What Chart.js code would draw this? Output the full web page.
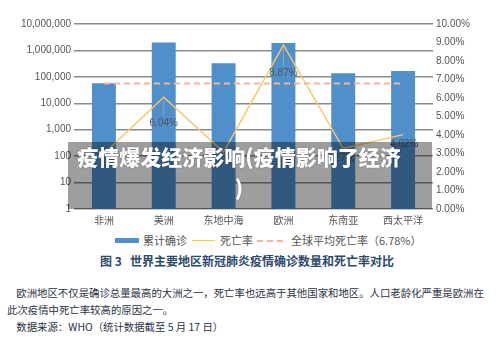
<!DOCTYPE html>
<html>
<head>
<meta charset="utf-8">
<script src="https://cdn.jsdelivr.net/npm/chart.js@4"></script>
<style>
  body { margin: 0; width: 500px; height: 349px; background: #fff; position: relative; overflow: hidden;
         font-family: "Noto Sans CJK SC", "Liberation Sans", sans-serif; }
  .chart-box { position: absolute; left: 0; top: 0; width: 500px; height: 230px; }
  .legend { position: absolute; top: 232px; left: 0; width: 500px; height: 16px; font-size: 11px; color: #555; }
  .legend span { position: absolute; top: 0; line-height: 16px; }
  .legend i { position: absolute; display: block; }
  .caption { position: absolute; left: 100px; top: 252px; font-size: 12px; font-weight: bold; color: #2d4a6b;
             white-space: nowrap; line-height: 18px; }
  .note { position: absolute; left: 7px; top: 284px; width: 490px; font-size: 10.4px; color: #2b3245;
          line-height: 17px; white-space: nowrap; }
  .overlay { position: absolute; left: 68px; top: 142px; width: 364px; height: 67px; background: rgba(0,0,0,0.38); }
  .overlay-text { position: absolute; left: 68px; top: 141px; width: 342px; text-align: center; color: #fff;
                  font-size: 21px; font-weight: 900; line-height: 31px; text-shadow: 0 0 2px rgba(0,0,0,0.3); }
</style>
</head>
<body>
<div class="chart-box"><canvas id="myChart"></canvas></div>

<div class="legend">
  <i style="left:115px; top:6px; width:24px; height:5px; background:#4f8fca;"></i>
  <span style="left:143px;">累计确诊</span>
  <i style="left:192px; top:8px; width:23px; height:0; border-top:1.5px solid #f7c66b;"></i>
  <span style="left:220px;">死亡率</span>
  <i style="left:257px; top:8px; width:26px; height:0; border-top:2px dashed #f5b59a;"></i>
  <span style="left:291px;">全球平均死亡率（6.78%）</span>
</div>

<div class="caption">图 3&nbsp;&nbsp;&nbsp;世界主要地区新冠肺炎疫情确诊数量和死亡率对比</div>

<div class="note">
  &nbsp;&nbsp;&nbsp;&nbsp;欧洲地区不仅是确诊总量最高的大洲之一，死亡率也远高于其他国家和地区。人口老龄化严重是欧洲在<br>
  此次疫情中死亡率较高的原因之一。<br>
  &nbsp;&nbsp;&nbsp;&nbsp;数据来源：WHO（统计数据截至 5 月 17 日）
</div>

<div class="overlay"></div>
<div class="overlay-text">疫情爆发经济影响(疫情影响了经济<br>)</div>

<script>
  // data
  const regions = ["非洲", "美洲", "东地中海", "欧洲", "东南亚", "西太平洋"];
  const confirmed = [57000, 2000000, 330000, 1900000, 138000, 168000];
  const deathRate = [3.0, 6.04, 3.08, 8.87, 3.27, 4.02];
  const globalRate = [6.78, 6.78, 6.78, 6.78, 6.78, 6.78];
  const leftTicks = [1, 10, 100, 1000, 10000, 100000, 1000000, 10000000];
  const labelledPoints = [1, 3, 4, 5];

  // labels under the death-rate points
  const rateLabels = {
    id: "rateLabels",
    afterDatasetsDraw(chart) {
      const ctx = chart.ctx;
      const meta = chart.getDatasetMeta(1);
      const offsets = { 1: [0, 26, true], 3: [0, 28, true], 4: [-3, 10, false], 5: [1, 10, false] };
      ctx.save();
      ctx.font = "10px 'Liberation Sans', sans-serif";
      ctx.fillStyle = "#555";
      ctx.textAlign = "center";
      ctx.textBaseline = "middle";
      labelledPoints.forEach((i) => {
        const p = meta.data[i];
        const [dx, dy, leader] = offsets[i];
        if (leader) {
          ctx.strokeStyle = "#aaa";
          ctx.lineWidth = 0.8;
          ctx.beginPath();
          ctx.moveTo(p.x, p.y + 3);
          ctx.lineTo(p.x, p.y + dy - 7);
          ctx.stroke();
        }
        ctx.fillText(deathRate[i].toFixed(2) + "%", p.x + dx, p.y + dy);
      });
      ctx.restore();
    },
  };

  new Chart(document.getElementById("myChart"), {
    type: "bar",
    data: {
      labels: regions,
      datasets: [
        {
          label: "累计确诊",
          data: confirmed,
          backgroundColor: "#4f8fca",
          yAxisID: "y",
          barPercentage: 0.5,
          categoryPercentage: 0.8,
          order: 3,
        },
        {
          type: "line",
          label: "死亡率",
          data: deathRate,
          borderColor: "#f7c66b",
          borderWidth: 1.5,
          pointRadius: 0,
          tension: 0,
          yAxisID: "y1",
          order: 1,
        },
        {
          type: "line",
          label: "全球平均死亡率（6.78%）",
          data: globalRate,
          borderColor: "#f5b59a",
          borderWidth: 2,
          borderDash: [6, 4],
          pointRadius: 0,
          yAxisID: "y1",
          order: 2,
        },
      ],
    },
    options: {
      responsive: true,
      maintainAspectRatio: false,
      animation: false,
      layout: { padding: { top: 24, left: 0, right: 0, bottom: 0 } },
      plugins: {
        legend: { display: false },
        tooltip: { enabled: false },
      },
      scales: {
        x: {
          grid: { display: false, drawTicks: false },
          border: { display: false },
          ticks: { padding: 5, color: "#555", font: { family: "Noto Sans CJK SC", size: 10 } },
          afterFit: (s) => { s.height = 21; },
        },
        y: {
          type: "logarithmic",
          position: "left",
          min: 1,
          max: 10000000,
          afterBuildTicks: (s) => { s.ticks = leftTicks.map((v) => ({ value: v })); },
          grid: { color: "#8a8a8a", lineWidth: 1.5, drawTicks: false },
          border: { display: false },
          ticks: {
            padding: 3,
            color: "#555",
            font: { family: "Liberation Sans", size: 10 },
            callback: (v) => Number(v).toLocaleString("en-US"),
          },
          afterFit: (s) => { s.width = 74; },
        },
        y1: {
          position: "right",
          min: 0,
          max: 10,
          ticks: {
            stepSize: 1,
            padding: 3,
            color: "#555",
            font: { family: "Liberation Sans", size: 10 },
            callback: (v) => v.toFixed(2) + "%",
          },
          grid: { drawOnChartArea: false, drawTicks: false },
          border: { display: false },
          afterFit: (s) => { s.width = 67; },
        },
      },
    },
    plugins: [rateLabels],
  });
</script>
</body>
</html>
